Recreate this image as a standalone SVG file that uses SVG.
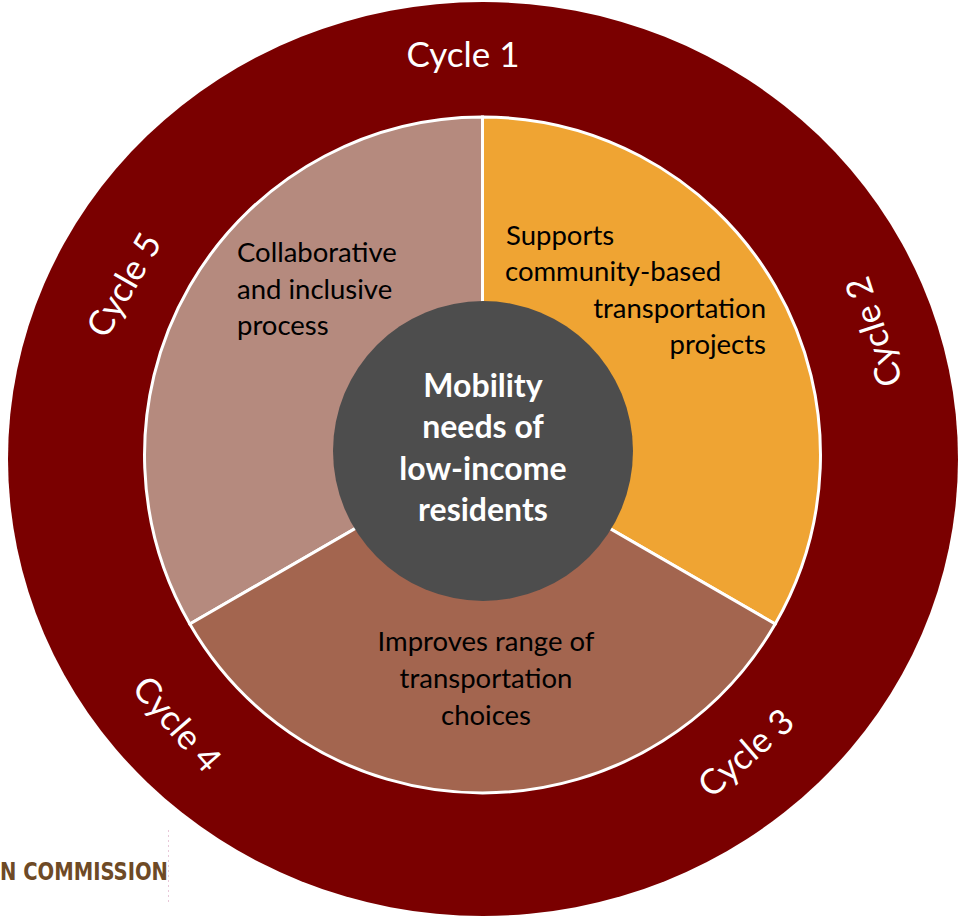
<svg xmlns="http://www.w3.org/2000/svg" width="958" height="918" viewBox="0 0 958 918">
<style>
.cyc{font-family:Lato,"Open Sans",sans-serif;font-size:35px;fill:#ffffff;text-anchor:middle}
.lbl{font-family:Lato,"Open Sans",sans-serif;font-size:27.5px;fill:#000000}
.ctr{font-family:Lato,"Open Sans",sans-serif;font-size:32px;font-weight:bold;fill:#ffffff;text-anchor:middle}
.sec{stroke:#ffffff;stroke-width:3;stroke-linejoin:miter}
</style>
<rect width="958" height="918" fill="#ffffff"/>
<g id="outer-ring">
<ellipse cx="483" cy="459" rx="475" ry="457" fill="#7a0000"/>
<text class="cyc" x="463" y="67">Cycle 1</text>
<text class="cyc" transform="translate(874,332) rotate(-108)" y="12">Cycle 2</text>
<text class="cyc" transform="translate(746,753) rotate(-41)" y="12">Cycle 3</text>
<text class="cyc" transform="translate(177,724) rotate(49)" y="12">Cycle 4</text>
<text class="cyc" transform="translate(124,285) rotate(-60)" y="12">Cycle 5</text>
</g>
<g id="sector-collaborative">
<path class="sec" fill="#b58a7e" d="M482.5,455 L189.8,624 A338,338 0 0 1 482.5,117 Z"/>
<text class="lbl" x="237" y="262">Collaborative</text>
<text class="lbl" x="237" y="299">and inclusive</text>
<text class="lbl" x="237" y="335">process</text>
</g>
<g id="sector-supports">
<path class="sec" fill="#efa433" d="M482.5,455 L482.5,117 A338,338 0 0 1 775.2,624 Z"/>
<text class="lbl" x="506" y="245">Supports</text>
<text class="lbl" x="505" y="281">community-based</text>
<text class="lbl" x="766" y="318" text-anchor="end">transportation</text>
<text class="lbl" x="766" y="354" text-anchor="end">projects</text>
</g>
<g id="sector-improves">
<path class="sec" fill="#a3654f" d="M482.5,455 L775.2,624 A338,338 0 0 1 189.8,624 Z"/>
<text class="lbl" x="486" y="651" text-anchor="middle">Improves range of</text>
<text class="lbl" x="486" y="688" text-anchor="middle">transportation</text>
<text class="lbl" x="486" y="725" text-anchor="middle">choices</text>
</g>
<g id="center">
<circle cx="483" cy="451" r="150" fill="#4d4d4d"/>
<text class="ctr" x="483" y="397">Mobility</text>
<text class="ctr" x="483" y="438">needs of</text>
<text class="ctr" x="483" y="480">low-income</text>
<text class="ctr" x="483" y="521">residents</text>
</g>
<g id="connectors"></g>
<g id="footer">
<line x1="168.5" y1="830" x2="168.5" y2="905" stroke="#e8c8d8" stroke-width="1" stroke-dasharray="2,3"/>
<text x="0" y="880" textLength="168" lengthAdjust="spacingAndGlyphs" font-family="'Liberation Sans Narrow','DejaVu Sans Condensed',sans-serif" font-weight="bold" font-size="25" fill="#6e4a26">N COMMISSION</text>
</g>
</svg>
